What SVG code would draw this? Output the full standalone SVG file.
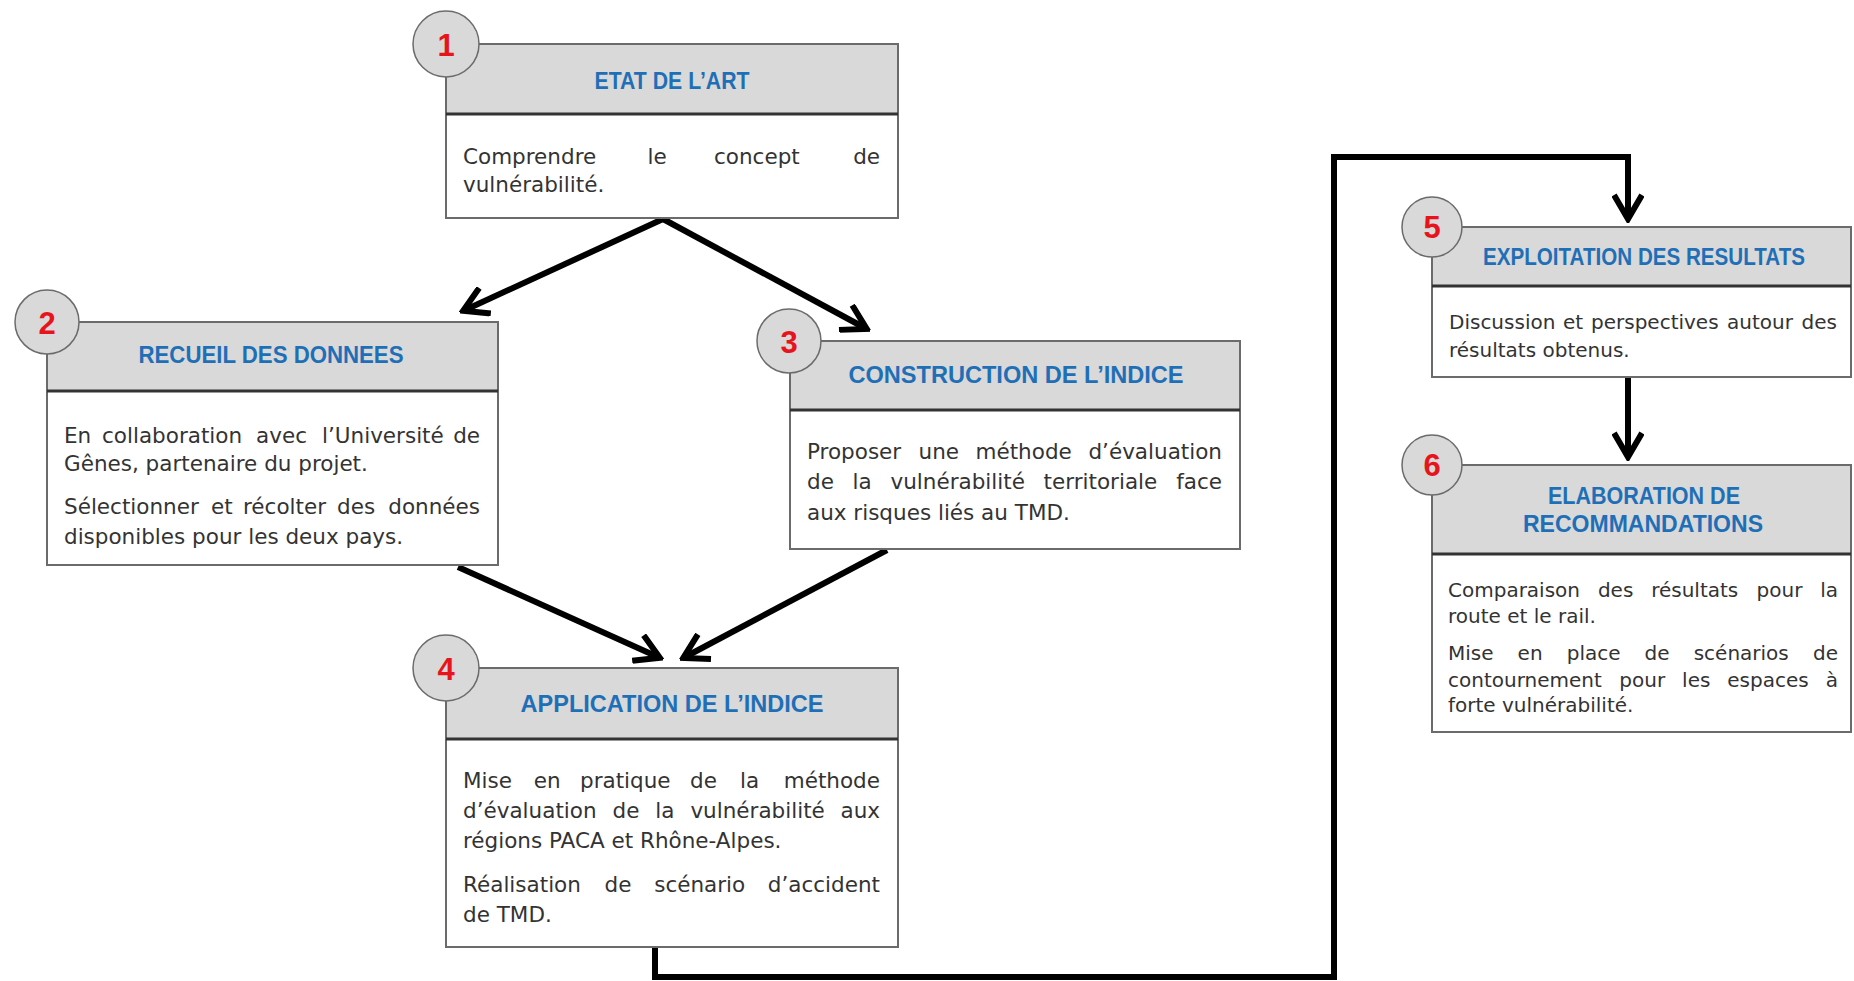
<svg xmlns="http://www.w3.org/2000/svg" width="1854" height="981" viewBox="0 0 1854 981">
<style>
.box{fill:#ffffff;stroke:#6b6b6b;stroke-width:2}
.hdr{fill:#d9d9d9;stroke:none}
.div{stroke:#333333;stroke-width:3}
.ttl{font-family:"Liberation Sans",Arial,sans-serif;font-weight:bold;font-size:24px;fill:#1f6fb7;text-anchor:middle}
.ttl2{font-family:"Liberation Sans",Arial,sans-serif;font-weight:bold;font-size:23px;fill:#1f6fb7;text-anchor:middle}
.b{font-family:"DejaVu Sans",sans-serif;font-size:21.5px;fill:#333333}
.s{font-family:"DejaVu Sans",sans-serif;font-size:20px;fill:#333333}
.e{text-anchor:end}
.cir{fill:#d9d9d9;stroke:#6b6b6b;stroke-width:1.5}
.num{font-family:"Liberation Sans",Arial,sans-serif;font-weight:bold;font-size:31px;fill:#e8141c;text-anchor:middle}
.con{fill:none;stroke:#000000;stroke-width:6;stroke-linejoin:miter}
</style>
<defs>
<marker id="arr" viewBox="0 0 32 32" refX="26" refY="16" markerWidth="32" markerHeight="32" markerUnits="userSpaceOnUse" orient="auto">
<path d="M4,2 L28,16 L4,30" fill="none" stroke="#000000" stroke-width="6"/>
</marker>
</defs>
<rect width="1854" height="981" fill="#ffffff"/>

<g id="connectors">
<path class="con" d="M663,219 L465,310" marker-end="url(#arr)"/>
<path class="con" d="M663,219 L865,328" marker-end="url(#arr)"/>
<path class="con" d="M458,567 L658,657" marker-end="url(#arr)"/>
<path class="con" d="M887,550 L685,657" marker-end="url(#arr)"/>
<path class="con" d="M655,946 L655,977 L1334,977 L1334,157 L1628,157 L1628,217" marker-end="url(#arr)"/>
<path class="con" d="M1628,377 L1628,455" marker-end="url(#arr)"/>
</g>

<g id="node1">
<rect class="box" x="446" y="44" width="452" height="174"/>
<rect class="hdr" x="447" y="45" width="450" height="68"/>
<line class="div" x1="446" y1="114" x2="898" y2="114"/>
<text class="ttl" x="672" y="89" textLength="155" lengthAdjust="spacingAndGlyphs">ETAT DE L’ART</text>
<text class="b" x="463" y="164">Comprendre</text>
<text class="b" x="647.5" y="164">le</text>
<text class="b" x="714" y="164">concept</text>
<text class="b e" x="880" y="164">de</text>
<text class="b" x="463" y="192">vulnérabilité.</text>
<circle class="cir" cx="446" cy="44" r="33"/>
<text class="num" x="446" y="56">1</text>
</g>

<g id="node2">
<rect class="box" x="47" y="322" width="451" height="243"/>
<rect class="hdr" x="48" y="323" width="449" height="67"/>
<line class="div" x1="47" y1="391" x2="498" y2="391"/>
<text class="ttl" x="271" y="363" textLength="265" lengthAdjust="spacingAndGlyphs">RECUEIL DES DONNEES</text>
<text class="b" x="64" y="443">En</text>
<text class="b" x="102" y="443">collaboration</text>
<text class="b" x="256" y="443">avec</text>
<text class="b" x="322" y="443">l’Université</text>
<text class="b e" x="480" y="443">de</text>
<text class="b" x="64" y="471">Gênes, partenaire du projet.</text>
<text class="b" x="64" y="514">Sélectionner</text>
<text class="b" x="211" y="514">et</text>
<text class="b" x="243" y="514">récolter</text>
<text class="b" x="337" y="514">des</text>
<text class="b e" x="480" y="514">données</text>
<text class="b" x="64" y="544">disponibles pour les deux pays.</text>
<circle class="cir" cx="47" cy="322" r="32"/>
<text class="num" x="47" y="334">2</text>
</g>

<g id="node3">
<rect class="box" x="790" y="341" width="450" height="208"/>
<rect class="hdr" x="791" y="342" width="448" height="67"/>
<line class="div" x1="790" y1="410" x2="1240" y2="410"/>
<text class="ttl" x="1016" y="383" textLength="335" lengthAdjust="spacingAndGlyphs">CONSTRUCTION DE L’INDICE</text>
<text class="b" x="807" y="459">Proposer</text>
<text class="b" x="918.5" y="459">une</text>
<text class="b" x="975.5" y="459">méthode</text>
<text class="b e" x="1222" y="459">d’évaluation</text>
<text class="b" x="807" y="489">de</text>
<text class="b" x="852.6" y="489">la</text>
<text class="b" x="890.5" y="489">vulnérabilité</text>
<text class="b" x="1043.6" y="489">territoriale</text>
<text class="b e" x="1222" y="489">face</text>
<text class="b" x="807" y="520">aux risques liés au TMD.</text>
<circle class="cir" cx="789" cy="341" r="32"/>
<text class="num" x="789" y="353">3</text>
</g>

<g id="node4">
<rect class="box" x="446" y="668" width="452" height="279"/>
<rect class="hdr" x="447" y="669" width="450" height="69"/>
<line class="div" x1="446" y1="739" x2="898" y2="739"/>
<text class="ttl" x="672" y="712" textLength="303" lengthAdjust="spacingAndGlyphs">APPLICATION DE L’INDICE</text>
<text class="b" x="463" y="788">Mise</text>
<text class="b" x="533.7" y="788">en</text>
<text class="b" x="580" y="788">pratique</text>
<text class="b" x="690" y="788">de</text>
<text class="b" x="740" y="788">la</text>
<text class="b e" x="880" y="788">méthode</text>
<text class="b" x="463" y="818">d’évaluation</text>
<text class="b" x="612.5" y="818">de</text>
<text class="b" x="655.3" y="818">la</text>
<text class="b" x="690.4" y="818">vulnérabilité</text>
<text class="b e" x="880" y="818">aux</text>
<text class="b" x="463" y="848">régions PACA et Rhône-Alpes.</text>
<text class="b" x="463" y="892">Réalisation</text>
<text class="b" x="604.6" y="892">de</text>
<text class="b" x="654.2" y="892">scénario</text>
<text class="b e" x="880" y="892">d’accident</text>
<text class="b" x="463" y="922">de TMD.</text>
<circle class="cir" cx="446" cy="668" r="33"/>
<text class="num" x="446" y="680">4</text>
</g>

<g id="node5">
<rect class="box" x="1432" y="227" width="419" height="150"/>
<rect class="hdr" x="1433" y="228" width="417" height="57"/>
<line class="div" x1="1432" y1="286" x2="1851" y2="286"/>
<text class="ttl2" x="1644" y="265" textLength="322" lengthAdjust="spacingAndGlyphs">EXPLOITATION DES RESULTATS</text>
<text class="s" x="1449" y="329">Discussion</text>
<text class="s" x="1563" y="329">et</text>
<text class="s" x="1591" y="329">perspectives</text>
<text class="s" x="1727" y="329">autour</text>
<text class="s e" x="1837" y="329">des</text>
<text class="s" x="1449" y="357">résultats obtenus.</text>
<circle class="cir" cx="1432" cy="227" r="30"/>
<text class="num" x="1432" y="238">5</text>
</g>

<g id="node6">
<rect class="box" x="1432" y="465" width="419" height="267"/>
<rect class="hdr" x="1433" y="466" width="417" height="87"/>
<line class="div" x1="1432" y1="554" x2="1851" y2="554"/>
<text class="ttl2" x="1644" y="504" textLength="192" lengthAdjust="spacingAndGlyphs">ELABORATION DE</text>
<text class="ttl2" x="1643" y="532" textLength="240" lengthAdjust="spacingAndGlyphs">RECOMMANDATIONS</text>
<text class="s" x="1448" y="597">Comparaison</text>
<text class="s" x="1597.9" y="597">des</text>
<text class="s" x="1651.2" y="597">résultats</text>
<text class="s" x="1756.6" y="597">pour</text>
<text class="s e" x="1838" y="597">la</text>
<text class="s" x="1448" y="623">route et le rail.</text>
<text class="s" x="1448" y="660">Mise</text>
<text class="s" x="1517.6" y="660">en</text>
<text class="s" x="1566.7" y="660">place</text>
<text class="s" x="1644.6" y="660">de</text>
<text class="s" x="1693.7" y="660">scénarios</text>
<text class="s e" x="1838" y="660">de</text>
<text class="s" x="1448" y="687">contournement</text>
<text class="s" x="1619.3" y="687">pour</text>
<text class="s" x="1682.1" y="687">les</text>
<text class="s" x="1727.3" y="687">espaces</text>
<text class="s e" x="1838" y="687">à</text>
<text class="s" x="1448" y="712">forte vulnérabilité.</text>
<circle class="cir" cx="1432" cy="465" r="30"/>
<text class="num" x="1432" y="476">6</text>
</g>
</svg>
